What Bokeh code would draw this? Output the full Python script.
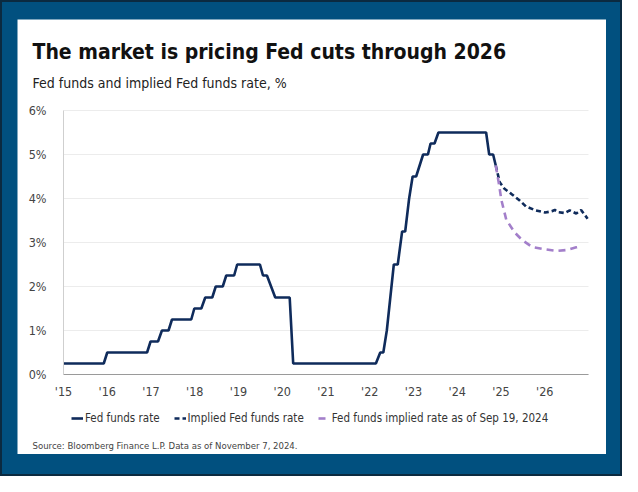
from bokeh.plotting import figure
from bokeh.models import (Legend, LegendItem, FixedTicker, Range1d, Label)
from bokeh.layouts import column
from bokeh.embed import file_html
from bokeh.resources import INLINE

# ---------------- data ----------------
ff_x = [2015.0, 2015.92, 2016.0, 2016.91, 2016.99, 2017.16, 2017.25, 2017.40, 2017.48,
        2017.92, 2017.99, 2018.15, 2018.24, 2018.40, 2018.48, 2018.64, 2018.72, 2018.90,
        2018.97, 2019.49, 2019.56, 2019.65, 2019.84, 2020.17, 2020.25, 2022.14, 2022.24,
        2022.31, 2022.39, 2022.47, 2022.55, 2022.64, 2022.74, 2022.81, 2022.90, 2022.98,
        2023.06, 2023.14, 2023.22, 2023.33, 2023.39, 2023.48, 2023.57, 2024.66, 2024.73,
        2024.82, 2024.88]
ff_y = [0.25, 0.25, 0.5, 0.5, 0.75, 0.75, 1.0, 1.0, 1.25,
        1.25, 1.5, 1.5, 1.75, 1.75, 2.0, 2.0, 2.25, 2.25,
        2.5, 2.5, 2.25, 2.25, 1.75, 1.75, 0.25, 0.25, 0.5,
        0.5, 1.0, 1.75, 2.5, 2.5, 3.25, 3.25, 4.0, 4.5,
        4.5, 4.75, 5.0, 5.0, 5.25, 5.25, 5.5, 5.5, 5.0,
        5.0, 4.75]

implied_x = [2024.88, 2024.97, 2025.08, 2025.23, 2025.42, 2025.57, 2025.79, 2026.01,
             2026.16, 2026.23, 2026.31, 2026.46, 2026.57, 2026.72, 2026.83, 2026.98]
implied_y = [4.75, 4.37, 4.22, 4.11, 3.96, 3.82, 3.73, 3.68,
             3.71, 3.74, 3.69, 3.67, 3.73, 3.66, 3.74, 3.54]

sep_x = [2024.88, 2024.95, 2025.01, 2025.12, 2025.31, 2025.49, 2025.71, 2025.98,
         2026.27, 2026.50, 2026.72, 2026.85]
sep_y = [4.75, 4.35, 3.96, 3.52, 3.23, 3.05, 2.90, 2.85,
         2.81, 2.83, 2.89, 2.92]

x_ticks = [2015, 2016, 2017, 2018, 2019, 2020, 2021, 2022, 2023, 2024, 2025, 2026]
x_tick_labels = ["'15", "'16", "'17", "'18", "'19", "'20", "'21", "'22", "'23", "'24", "'25", "'26"]
y_ticks = [0, 1, 2, 3, 4, 5, 6]
y_tick_labels = ["0%", "1%", "2%", "3%", "4%", "5%", "6%"]
x_bounds = (2015, 2027)
y_bounds = (0, 6)

title_text = "The market is pricing Fed cuts through 2026"
subtitle_text = "Fed funds and implied Fed funds rate, %"
source_text = "Source: Bloomberg Finance L.P. Data as of November 7, 2024."
legend_labels = ["Fed funds rate", "Implied Fed funds rate", "Fed funds implied rate as of Sep 19, 2024"]

# ---------------- layout (pixels) ----------------
W, H = 589, 435                 # white panel = figure
PLOT_L, PLOT_R = 46, 571        # x pixels of x_bounds
PLOT_T, PLOT_B = 91, 355        # y pixels of y_bounds (top, bottom)
ppx = (PLOT_R - PLOT_L) / (x_bounds[1] - x_bounds[0])
ppy = (PLOT_B - PLOT_T) / (y_bounds[1] - y_bounds[0])
x_range = Range1d(x_bounds[0] - PLOT_L / ppx, x_bounds[1] + (W - PLOT_R) / ppx)
y_range = Range1d(y_bounds[0] - (H - PLOT_B) / ppy, y_bounds[1] + PLOT_T / ppy)

# ---------------- style ----------------
FONT = "DejaVu Sans Condensed"
NAVY = "#0f2b5b"
PURPLE = "#a37fca"

p = figure(width=W, height=H, output_backend="svg", toolbar_location=None,
           x_range=x_range, y_range=y_range,
           min_border=0, min_border_left=0, min_border_right=0,
           min_border_top=0, min_border_bottom=0,
           background_fill_color="white", border_fill_color="white", outline_line_color=None)

p.xgrid.grid_line_color = None
p.ygrid.grid_line_color = "#ececec"
p.ygrid.grid_line_width = 1
try:
    p.ygrid.cross_bounds = x_bounds
except Exception:
    pass

p.xaxis.ticker = FixedTicker(ticks=x_ticks)
p.xaxis.major_label_overrides = {t: l for t, l in zip(x_ticks, x_tick_labels)}
p.yaxis.ticker = FixedTicker(ticks=y_ticks)
p.yaxis.major_label_overrides = {t: l for t, l in zip(y_ticks, y_tick_labels)}
p.xaxis.fixed_location = y_bounds[0]
p.yaxis.fixed_location = x_bounds[0]
p.xaxis.bounds = x_bounds
p.yaxis.bounds = y_bounds
for ax in (p.xaxis, p.yaxis):
    ax.major_tick_line_color = None
    ax.minor_tick_line_color = None
    ax.major_label_text_font = FONT
    ax.major_label_text_font_size = "12.5px"
    ax.major_label_text_color = "#444444"
p.xaxis.axis_line_color = "#9a9a9a"
p.yaxis.axis_line_color = "#cfcfcf"
p.xaxis.major_label_standoff = 3
p.yaxis.major_label_standoff = 11

r1 = p.line(ff_x, ff_y, line_color=NAVY, line_width=2.6)
r2 = p.line(implied_x, implied_y, line_color=NAVY, line_width=2.6, line_dash="5 3")
r3 = p.line(sep_x, sep_y, line_color=PURPLE, line_width=2.6, line_dash="7 5")

legend = Legend(items=[LegendItem(label=legend_labels[0], renderers=[r1]),
                       LegendItem(label=legend_labels[1], renderers=[r2]),
                       LegendItem(label=legend_labels[2], renderers=[r3])],
                location=(54, 26), orientation="horizontal",
                padding=0, margin=0, spacing=14, glyph_width=12, glyph_height=20,
                label_standoff=2, label_height=20,
                label_text_font=FONT, label_text_font_size="11.5px", label_text_color="#333333",
                background_fill_alpha=0, border_line_alpha=0)
p.add_layout(legend)

p.add_layout(Label(x=15, y=H - 32, x_units="screen", y_units="screen", text=title_text,
                   text_font=FONT, text_font_style="bold", text_font_size="21px",
                   text_color="#111111", text_baseline="alphabetic"))
p.add_layout(Label(x=15, y=H - 63, x_units="screen", y_units="screen", text=subtitle_text,
                   text_font=FONT, text_font_size="14px",
                   text_color="#222222", text_baseline="alphabetic"))
p.add_layout(Label(x=15, y=H - 426, x_units="screen", y_units="screen", text=source_text,
                   text_font=FONT, text_font_size="9.5px",
                   text_color="#444444", text_baseline="alphabetic"))

layout = column(p, styles={"background-color": "#01507f",
                           "border": "2px solid #0b2a40",
                           "padding": "17px 14px 20px 15px"})

open("out.html", "w").write(file_html(layout, INLINE))
